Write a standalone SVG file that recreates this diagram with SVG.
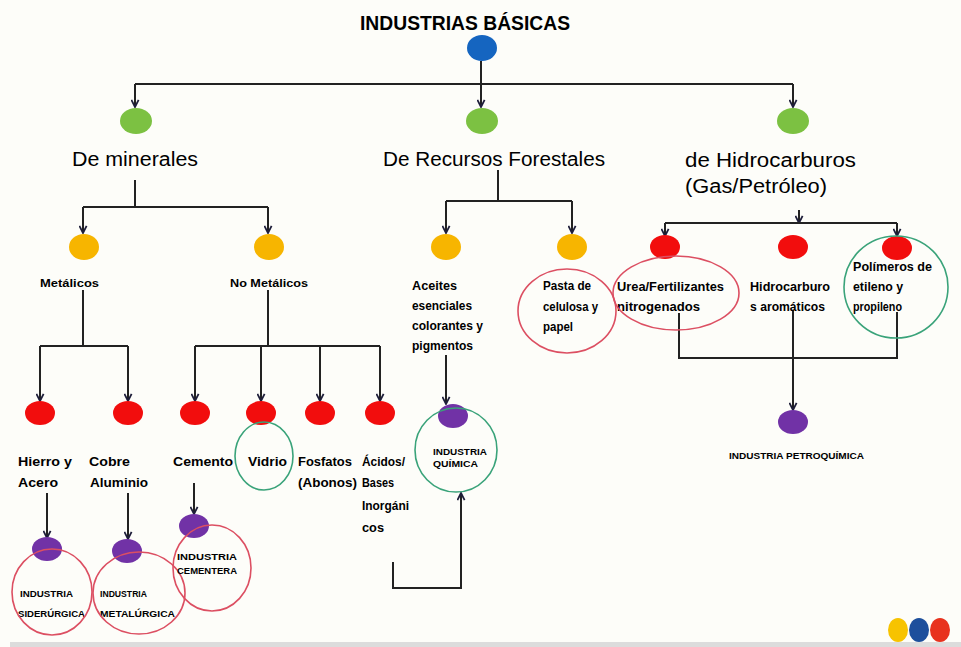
<svg xmlns="http://www.w3.org/2000/svg" width="961" height="647" viewBox="0 0 961 647">
<defs>
<marker id="arr" viewBox="0 0 10 10" refX="9" refY="5" markerWidth="9" markerHeight="9" markerUnits="userSpaceOnUse" orient="auto">
<path d="M1,1 L9,5 L1,9" fill="none" stroke="#1e1e3a" stroke-width="2"/>
</marker>
<style>
.c{fill:none;stroke:#222;stroke-width:2}
.a{marker-end:url(#arr)}
.g{fill:#7cc142}
.y{fill:#f7b500}
.r{fill:#f20d0d}
.p{fill:#7132a6}
.ro{fill:none;stroke:#dc4f62;stroke-width:1.6}
.go{fill:none;stroke:#3aa37a;stroke-width:1.6}
text{font-family:"Liberation Sans",Arial,sans-serif;fill:#000}
.t1{font-size:21px;font-weight:bold}
.t2{font-size:20px}
.t3{font-size:11px;font-weight:bold}
.t4{font-size:12px;font-weight:bold}
.t5{font-size:9px;font-weight:bold}
</style>
</defs>
<rect x="0" y="0" width="961" height="647" fill="#fdfdf9"/>
<rect x="10" y="642" width="951" height="5" fill="#dcdcdc"/>

<g id="connectors">
<path class="c a" d="M481,61 V107"/>
<path class="c" d="M135,84 H793"/>
<path class="c a" d="M135,84 V107"/>
<path class="c a" d="M793,84 V107"/>
<path class="c" d="M135,180 V207"/>
<path class="c" d="M83,207 H268"/>
<path class="c a" d="M83,207 V233"/>
<path class="c a" d="M268,207 V233"/>
<path class="c" d="M498,170 V201"/>
<path class="c" d="M446,201 H572"/>
<path class="c a" d="M446,201 V233"/>
<path class="c a" d="M572,201 V233"/>
<path class="c a" d="M799,210 V223"/>
<path class="c" d="M665,223 H897"/>
<path class="c a" d="M665,223 V236"/>
<path class="c a" d="M897,223 V236"/>
<path class="c" d="M83,290 V346"/>
<path class="c" d="M40,346 H128"/>
<path class="c a" d="M40,346 V401"/>
<path class="c a" d="M128,346 V401"/>
<path class="c" d="M268,290 V346"/>
<path class="c" d="M195,346 H380"/>
<path class="c a" d="M195,346 V401"/>
<path class="c a" d="M261,346 V401"/>
<path class="c a" d="M320,346 V401"/>
<path class="c a" d="M380,346 V401"/>
<path class="c a" d="M47,493 V538"/>
<path class="c a" d="M128,493 V539"/>
<path class="c a" d="M194,483 V514"/>
<path class="c a" d="M446,355 V404"/>
<path class="c a" d="M393,562 V588 H461 V493"/>
<path class="c" d="M679,313 V358 H897 V312"/>
<path class="c a" d="M793,310 V410"/>
</g>

<g id="root">
<text class="t1" x="360" y="30" textLength="210" lengthAdjust="spacingAndGlyphs">INDUSTRIAS BÁSICAS</text>
<ellipse cx="482" cy="48" rx="15" ry="13" fill="#1565c0"/>
</g>

<g id="minerales">
<ellipse class="g" cx="136" cy="121" rx="16" ry="13"/>
<text class="t2" x="72" y="166" textLength="126" lengthAdjust="spacingAndGlyphs">De minerales</text>
</g>
<g id="forestales">
<ellipse class="g" cx="482" cy="121" rx="16" ry="13"/>
<text class="t2" x="383" y="166" textLength="222" lengthAdjust="spacingAndGlyphs">De Recursos Forestales</text>
</g>
<g id="hidrocarburos">
<ellipse class="g" cx="793" cy="121" rx="16" ry="13"/>
<text class="t2" x="685" y="167" textLength="171" lengthAdjust="spacingAndGlyphs">de Hidrocarburos</text>
<text class="t2" x="685" y="193" textLength="142" lengthAdjust="spacingAndGlyphs">(Gas/Petróleo)</text>
</g>

<g id="metalicos">
<ellipse class="y" cx="84" cy="247" rx="15" ry="13"/>
<text class="t3" x="40" y="287" textLength="59" lengthAdjust="spacingAndGlyphs">Metálicos</text>
</g>
<g id="no-metalicos">
<ellipse class="y" cx="269" cy="247" rx="15" ry="13"/>
<text class="t3" x="230" y="287" textLength="78" lengthAdjust="spacingAndGlyphs">No Metálicos</text>
</g>
<g id="aceites">
<ellipse class="y" cx="446" cy="247" rx="15" ry="13"/>
<text class="t4" x="412" y="290" textLength="45" lengthAdjust="spacingAndGlyphs">Aceites</text>
<text class="t4" x="412" y="310" textLength="60" lengthAdjust="spacingAndGlyphs">esenciales</text>
<text class="t4" x="412" y="330" textLength="71" lengthAdjust="spacingAndGlyphs">colorantes y</text>
<text class="t4" x="412" y="350" textLength="61" lengthAdjust="spacingAndGlyphs">pigmentos</text>
</g>
<g id="pasta">
<ellipse class="y" cx="572" cy="247" rx="15" ry="13"/>
<text class="t4" x="543" y="290" textLength="48" lengthAdjust="spacingAndGlyphs">Pasta de</text>
<text class="t4" x="543" y="311" textLength="55" lengthAdjust="spacingAndGlyphs">celulosa y</text>
<text class="t4" x="543" y="331" textLength="30" lengthAdjust="spacingAndGlyphs">papel</text>
<ellipse class="ro" cx="567" cy="311" rx="49" ry="42"/>
</g>
<g id="urea">
<ellipse class="r" cx="665" cy="247" rx="15" ry="12"/>
<text class="t4" x="617" y="291" textLength="107" lengthAdjust="spacingAndGlyphs">Urea/Fertilizantes</text>
<text class="t4" x="617" y="311" textLength="83" lengthAdjust="spacingAndGlyphs">nitrogenados</text>
<ellipse class="ro" cx="676" cy="293" rx="63" ry="37"/>
</g>
<g id="aromaticos">
<ellipse class="r" cx="793" cy="247" rx="15" ry="12"/>
<text class="t4" x="750" y="291" textLength="80" lengthAdjust="spacingAndGlyphs">Hidrocarburo</text>
<text class="t4" x="750" y="311" textLength="75" lengthAdjust="spacingAndGlyphs">s aromáticos</text>
</g>
<g id="polimeros">
<ellipse class="r" cx="897" cy="248" rx="15" ry="12"/>
<text class="t4" x="853" y="271" textLength="79" lengthAdjust="spacingAndGlyphs">Polímeros de</text>
<text class="t4" x="853" y="291" textLength="50" lengthAdjust="spacingAndGlyphs">etileno y</text>
<text class="t4" x="853" y="311" textLength="49" lengthAdjust="spacingAndGlyphs">propileno</text>
<ellipse class="go" cx="896" cy="287" rx="52" ry="51"/>
</g>

<g id="hierro">
<ellipse class="r" cx="40" cy="413" rx="15" ry="12"/>
<text class="t4" x="18" y="466" textLength="54" lengthAdjust="spacingAndGlyphs">Hierro y</text>
<text class="t4" x="18" y="487" textLength="40" lengthAdjust="spacingAndGlyphs">Acero</text>
</g>
<g id="cobre">
<ellipse class="r" cx="128" cy="413" rx="15" ry="12"/>
<text class="t4" x="89" y="466" textLength="41" lengthAdjust="spacingAndGlyphs">Cobre</text>
<text class="t4" x="90" y="487" textLength="58" lengthAdjust="spacingAndGlyphs">Aluminio</text>
</g>
<g id="cemento">
<ellipse class="r" cx="195" cy="413" rx="15" ry="12"/>
<text class="t4" x="173" y="466" textLength="60" lengthAdjust="spacingAndGlyphs">Cemento</text>
</g>
<g id="vidrio">
<ellipse class="r" cx="261" cy="413" rx="15" ry="12"/>
<text class="t4" x="248" y="466" textLength="39" lengthAdjust="spacingAndGlyphs">Vidrio</text>
<ellipse class="go" cx="264" cy="456" rx="29" ry="34"/>
</g>
<g id="fosfatos">
<ellipse class="r" cx="320" cy="413" rx="15" ry="12"/>
<text class="t4" x="298" y="466" textLength="54" lengthAdjust="spacingAndGlyphs">Fosfatos</text>
<text class="t4" x="298" y="487" textLength="59" lengthAdjust="spacingAndGlyphs">(Abonos)</text>
</g>
<g id="acidos">
<ellipse class="r" cx="380" cy="413" rx="15" ry="12"/>
<text class="t4" x="362" y="466" textLength="43" lengthAdjust="spacingAndGlyphs">Ácidos/</text>
<text class="t4" x="362" y="487" textLength="32" lengthAdjust="spacingAndGlyphs">Bases</text>
<text class="t4" x="362" y="510" textLength="47" lengthAdjust="spacingAndGlyphs">Inorgáni</text>
<text class="t4" x="362" y="532" textLength="22" lengthAdjust="spacingAndGlyphs">cos</text>
</g>

<g id="siderurgica">
<ellipse class="p" cx="47" cy="549" rx="15" ry="12"/>
<text class="t5" x="20" y="597" textLength="53" lengthAdjust="spacingAndGlyphs">INDUSTRIA</text>
<text class="t5" x="18" y="617" textLength="67" lengthAdjust="spacingAndGlyphs">SIDERÚRGICA</text>
<ellipse class="ro" cx="52" cy="592" rx="40" ry="43"/>
</g>
<g id="metalurgica">
<ellipse class="p" cx="127" cy="551" rx="15" ry="12"/>
<text class="t5" x="100" y="597" textLength="47" lengthAdjust="spacingAndGlyphs">INDUSTRIA</text>
<text class="t5" x="100" y="617" textLength="75" lengthAdjust="spacingAndGlyphs">METALÚRGICA</text>
<ellipse class="ro" cx="139" cy="593" rx="46" ry="41"/>
</g>
<g id="cementera">
<ellipse class="p" cx="194" cy="526" rx="15" ry="12"/>
<text class="t5" x="177" y="560" textLength="60" lengthAdjust="spacingAndGlyphs">INDUSTRIA</text>
<text class="t5" x="177" y="574" textLength="60" lengthAdjust="spacingAndGlyphs">CEMENTERA</text>
<ellipse class="ro" cx="212" cy="568" rx="39" ry="43"/>
</g>
<g id="quimica">
<ellipse class="p" cx="453" cy="416" rx="15" ry="12"/>
<text class="t5" x="433" y="455" textLength="54" lengthAdjust="spacingAndGlyphs">INDUSTRIA</text>
<text class="t5" x="433" y="467" textLength="45" lengthAdjust="spacingAndGlyphs">QUÍMICA</text>
<ellipse class="go" cx="456" cy="450" rx="41" ry="42"/>
</g>
<g id="petroquimica">
<ellipse class="p" cx="793" cy="422" rx="15" ry="12"/>
<text class="t5" x="729" y="459" textLength="135" lengthAdjust="spacingAndGlyphs">INDUSTRIA PETROQUÍMICA</text>
</g>

<g id="dots">
<ellipse cx="898" cy="630" rx="10" ry="12" fill="#f7c300"/>
<ellipse cx="919" cy="630" rx="10" ry="12" fill="#1d4f9c"/>
<ellipse cx="940" cy="630" rx="10" ry="12" fill="#e8321e"/>
</g>
</svg>
